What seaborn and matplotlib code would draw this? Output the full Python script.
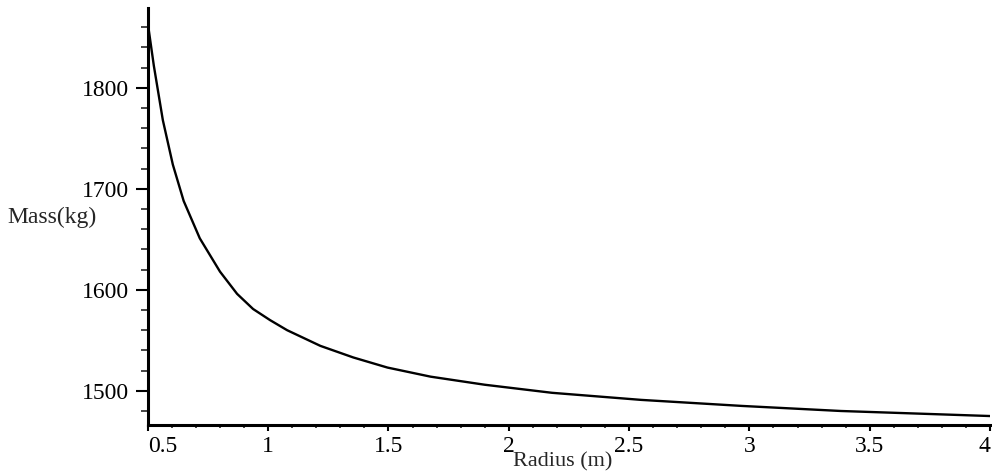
import matplotlib
matplotlib.use("Agg")
import matplotlib.pyplot as plt
from matplotlib.ticker import MultipleLocator
import pandas as pd
import seaborn as sns

# values
radius = [0.500, 0.525, 0.5625, 0.604, 0.649, 0.716, 0.80, 0.871, 0.9375,
          1.008, 1.079, 1.217, 1.354, 1.496, 1.675, 1.90, 2.18, 2.55, 2.97,
          3.38, 4.00]
mass = [1864, 1822, 1768, 1724, 1688, 1651, 1618, 1596, 1581,
        1570, 1560, 1544.5, 1533, 1523, 1514, 1506, 1498, 1491, 1485,
        1480, 1475]
x_ticks = [0.5, 1, 1.5, 2, 2.5, 3, 3.5, 4]
x_tick_labels = ["0.5", "1", "1.5", "2", "2.5", "3", "3.5", "4"]
y_ticks = [1500, 1600, 1700, 1800]

df = pd.DataFrame({"Radius": radius, "Mass": mass})

sns.set_style("ticks")
plt.rcParams["font.family"] = ["Liberation Serif", "DejaVu Serif"]

fig = plt.figure(figsize=(9.92, 4.75), dpi=100)
ax = fig.add_axes([0.149, 0.105, 0.849, 0.878])

sns.lineplot(data=df, x="Radius", y="Mass", ax=ax, color="black",
             linewidth=1.7, estimator=None)

ax.set_xlim(0.5, 4)
ax.set_ylim(1466, 1879)
ax.set_xticks(x_ticks)
ax.set_xticklabels(x_tick_labels, fontsize=17)
ax.get_xticklabels()[0].set_horizontalalignment("left")
ax.get_xticklabels()[-1].set_horizontalalignment("right")
ax.set_yticks(y_ticks)
ax.set_yticklabels([str(v) for v in y_ticks], fontsize=17)
ax.xaxis.set_minor_locator(MultipleLocator(0.1))
ax.yaxis.set_minor_locator(MultipleLocator(20))

ax.tick_params(axis="x", which="major", direction="out", length=4, width=1.5,
               pad=4, colors="black")
ax.tick_params(axis="x", which="minor", direction="out", length=2.5, width=1.2)
ax.tick_params(axis="y", which="major", direction="out", length=8.5, width=1.5,
               pad=5, colors="black")
ax.tick_params(axis="y", which="minor", direction="out", length=5, width=1.2)

for side in ["top", "right"]:
    ax.spines[side].set_visible(False)
for side in ["left", "bottom"]:
    ax.spines[side].set_linewidth(2.2)
    ax.spines[side].set_color("black")

ax.set_xlabel("Radius (m)", fontsize=16)
ax.xaxis.set_label_coords(0.493, -0.064)
ax.set_ylabel("Mass(kg)", fontsize=17, rotation=0)
ax.yaxis.label.set_verticalalignment("center")
ax.yaxis.set_label_coords(-0.114, 0.499)

fig.savefig("out.png", dpi=100)
